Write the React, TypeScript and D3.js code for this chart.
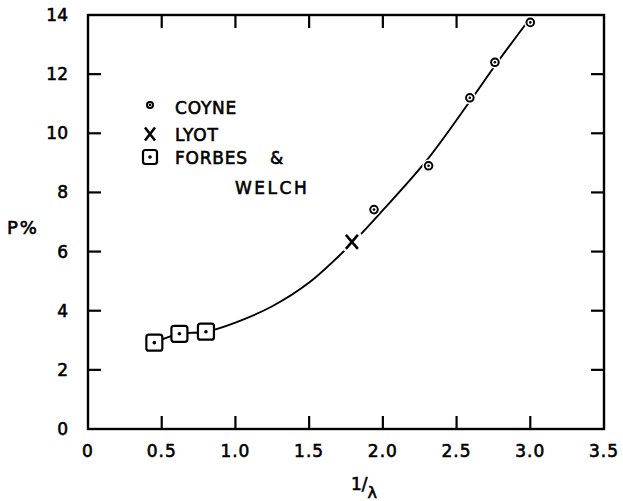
import React, { useEffect, useRef } from "react";
import * as d3 from "d3";

// measured values
const coyneX = [1.94, 2.31, 2.59, 2.76, 3.0];
const coyneY = [7.42, 8.9, 11.2, 12.4, 13.75];
const lyotX = [1.79];
const lyotY = [6.33];
const forbesX = [0.45, 0.62, 0.8];
const forbesY = [2.92, 3.22, 3.29];
// hand-drawn fit curve
const curveX = [0.45, 0.62, 0.8, 1.0, 1.25, 1.5, 1.8, 2.0, 2.3, 2.6, 2.77, 3.0];
const curveY = [2.92, 3.22, 3.29, 3.6, 4.15, 4.95, 6.33, 7.4, 9.1, 11.15, 12.35, 13.9];
const xTicks = [0, 0.5, 1.0, 1.5, 2.0, 2.5, 3.0, 3.5];
const xTickLabels = ["0", "0.5", "1.0", "1.5", "2.0", "2.5", "3.0", "3.5"];
const yTicks = [0, 2, 4, 6, 8, 10, 12, 14];

const FONT = "'DejaVu Sans', sans-serif";

export default function App() {
  const ref = useRef<SVGSVGElement>(null);

  useEffect(() => {
    if (!ref.current) return;
    const svg = d3.select(ref.current);
    svg.selectAll("*").remove();

    const left = 88, right = 604, top = 15, bottom = 429;
    const x = d3.scaleLinear().domain([0, 3.5]).range([left, right]);
    const y = d3.scaleLinear().domain([0, 14]).range([bottom, top]);
    const tickLen = 13;

    const g = svg.append("g");

    // frame
    g.append("rect")
      .attr("x", left).attr("y", top)
      .attr("width", right - left).attr("height", bottom - top)
      .attr("fill", "none").attr("stroke", "#000").attr("stroke-width", 2.4);

    // ticks on all four sides, pointing inward
    xTicks.slice(1, -1).forEach((t) => {
      g.append("line").attr("x1", x(t)).attr("x2", x(t))
        .attr("y1", bottom).attr("y2", bottom - tickLen)
        .attr("stroke", "#000").attr("stroke-width", 2.2);
      g.append("line").attr("x1", x(t)).attr("x2", x(t))
        .attr("y1", top).attr("y2", top + tickLen)
        .attr("stroke", "#000").attr("stroke-width", 2.2);
    });
    yTicks.slice(1, -1).forEach((t) => {
      g.append("line").attr("x1", left).attr("x2", left + tickLen)
        .attr("y1", y(t)).attr("y2", y(t))
        .attr("stroke", "#000").attr("stroke-width", 2.2);
      g.append("line").attr("x1", right).attr("x2", right - tickLen)
        .attr("y1", y(t)).attr("y2", y(t))
        .attr("stroke", "#000").attr("stroke-width", 2.2);
    });

    const txt = (sel: any) =>
      sel.attr("font-family", FONT).attr("stroke", "#000").attr("stroke-width", 0.6);

    // tick labels
    txt(g.selectAll(".xl").data(xTicks).enter().append("text")
      .attr("x", (d) => x(d)).attr("y", bottom + 28)
      .attr("text-anchor", "middle")
      .attr("font-size", 17).attr("letter-spacing", 1)
      .text((d, i) => xTickLabels[i]));
    txt(g.selectAll(".yl").data(yTicks).enter().append("text")
      .attr("x", left - 20).attr("y", (d) => y(d) + 6)
      .attr("text-anchor", "end")
      .attr("font-size", 17)
      .text((d) => String(d)));

    // axis titles
    txt(g.append("text").attr("x", 7).attr("y", 234)
      .attr("font-size", 18).attr("letter-spacing", 2)
      .text("P%"));
    const xt = txt(g.append("text").attr("x", 351).attr("y", 490)
      .attr("font-size", 17));
    xt.append("tspan").text("1/");
    xt.append("tspan").attr("dy", 8).attr("font-size", 16).text("λ");

    // fit curve
    const pts: [number, number][] = curveX.map((v, i) => [v, curveY[i]]);
    const line = d3.line<[number, number]>()
      .x((d) => x(d[0])).y((d) => y(d[1]))
      .curve(d3.curveCatmullRom.alpha(0.5));
    g.append("path").attr("d", line(pts) as string)
      .attr("fill", "none").attr("stroke", "#000").attr("stroke-width", 1.9);

    // markers
    const drawCircle = (cx: number, cy: number, r: number) => {
      g.append("circle").attr("cx", cx).attr("cy", cy).attr("r", r + 2.5).attr("fill", "#fff");
      g.append("circle").attr("cx", cx).attr("cy", cy).attr("r", r)
        .attr("fill", "#fff").attr("stroke", "#000").attr("stroke-width", 2);
      g.append("circle").attr("cx", cx).attr("cy", cy).attr("r", 1.3).attr("fill", "#000");
    };
    const drawX = (cx: number, cy: number, sx: number, sy: number, halo: boolean) => {
      if (halo) g.append("circle").attr("cx", cx).attr("cy", cy).attr("r", sy + 5).attr("fill", "#fff");
      g.append("path")
        .attr("d", `M${cx - sx},${cy - sy}L${cx + sx},${cy + sy}M${cx + sx},${cy - sy}L${cx - sx},${cy + sy}`)
        .attr("stroke", "#000").attr("stroke-width", 2.6).attr("fill", "none");
    };
    const drawSquare = (cx: number, cy: number, s: number) => {
      g.append("rect").attr("x", cx - s / 2).attr("y", cy - s / 2)
        .attr("width", s).attr("height", s).attr("rx", 2.5)
        .attr("fill", "#fff").attr("stroke", "#000").attr("stroke-width", 2.2);
      g.append("circle").attr("cx", cx).attr("cy", cy).attr("r", 1.8).attr("fill", "#000");
    };

    coyneX.forEach((v, i) => drawCircle(x(v), y(coyneY[i]), 3.8));
    lyotX.forEach((v, i) => drawX(x(v), y(lyotY[i]), 6, 7, true));
    forbesX.forEach((v, i) => drawSquare(x(v), y(forbesY[i]), 16));

    // legend
    const lx = 150, tx = 175;
    drawCircle(lx, 105, 3);
    drawX(lx, 134, 5, 6.5, false);
    drawSquare(lx, 157, 14);
    const leg = (xx: number, yy: number, s: string, ls = 0.8) =>
      txt(g.append("text").attr("x", xx).attr("y", yy)
        .attr("font-size", 17)
        .attr("letter-spacing", ls).text(s));
    leg(tx, 114, "COYNE");
    leg(tx, 141, "LYOT");
    leg(tx, 164, "FORBES");
    leg(270, 164, "&");
    leg(235, 194, "WELCH", 2.5);
  }, []);

  return (
    <svg
      ref={ref}
      width={623}
      height={501}
      style={{ position: "absolute", left: 0, top: 0, background: "#fff" }}
    />
  );
}
